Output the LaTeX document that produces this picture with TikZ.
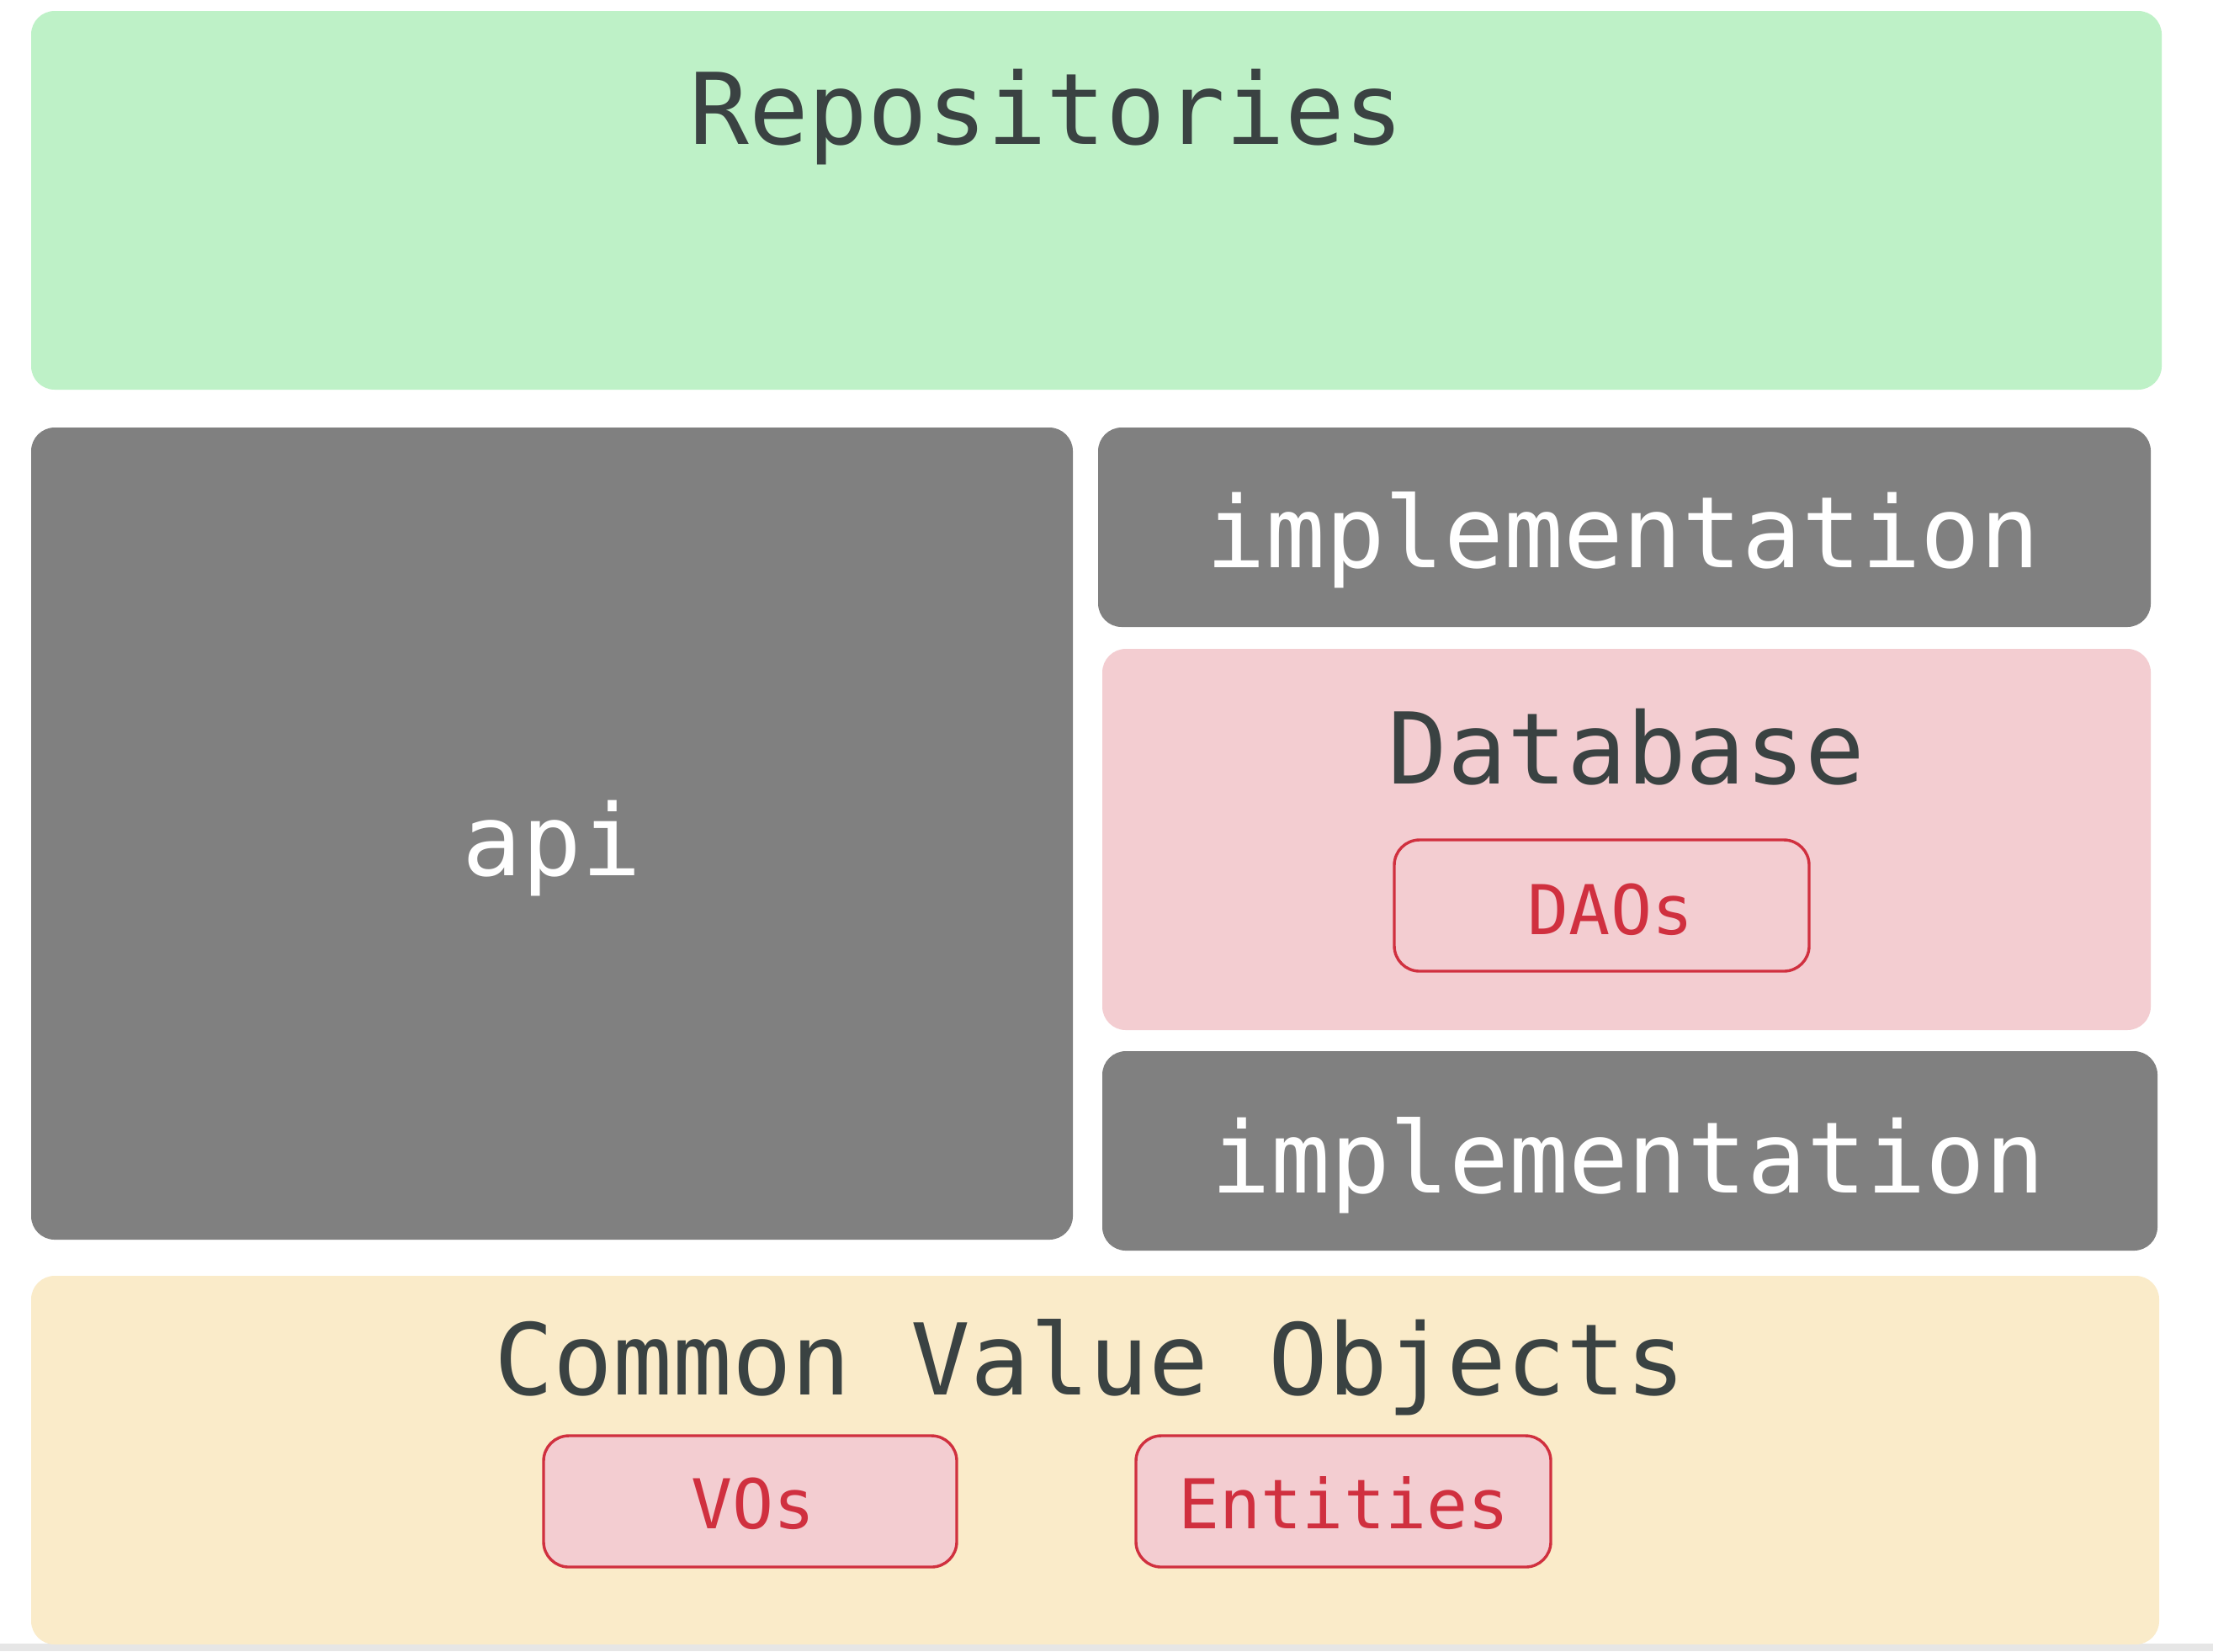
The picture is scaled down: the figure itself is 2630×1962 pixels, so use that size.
\documentclass[tikz,border=0pt]{standalone}
\usepackage{fontspec}
\setmonofont{DejaVu Sans Mono}
\definecolor{repogreen}{HTML}{BEF1C7}
\definecolor{modgray}{HTML}{808080}
\definecolor{dbpink}{HTML}{F3CDD1}
\definecolor{voyellow}{HTML}{FAEBC9}
\definecolor{tagred}{HTML}{D0303F}
\definecolor{darktext}{HTML}{3A4242}
\definecolor{stripgray}{HTML}{E6E6E6}
\tikzset{
  panel/.style={rounded corners=7pt, inner sep=0pt, draw=none},
  tagbox/.style={rounded corners=7.5pt, inner sep=0pt, draw=tagred, line width=0.85pt, fill=dbpink},
  bigtext/.style={anchor=base, inner sep=0pt, font=\ttfamily\fontsize{29.4}{32}\selectfont},
  smalltext/.style={anchor=base, inner sep=0pt, text=tagred, font=\ttfamily\fontsize{20.4}{24}\selectfont}
}
\begin{document}
\begin{tikzpicture}[x=0.25pt,y=-0.25pt]
\useasboundingbox (0,0) rectangle (2630,1962);
\fill[white] (0,0) rectangle (2630,1962);
\fill[stripgray] (0,1953) rectangle (2630,1962);
% boxes
\node[panel, fill=repogreen, minimum width=633pt, minimum height=112.5pt] (repo) at (1303,238) {};
\node[panel, fill=modgray, minimum width=309.5pt, minimum height=241.25pt] (api) at (656,990.5) {};
\node[panel, fill=modgray, minimum width=312.75pt, minimum height=59.25pt] (impltop) at (1930.5,626.5) {};
\node[panel, fill=dbpink, minimum width=311.5pt, minimum height=113.25pt] (db) at (1933,997.5) {};
\node[panel, fill=modgray, minimum width=313.5pt, minimum height=59.25pt] (implbot) at (1937,1367.5) {};
\node[panel, fill=voyellow, minimum width=632.25pt, minimum height=109.5pt] (cvo) at (1301.5,1735) {};
\node[tagbox, fill=none, minimum width=123.25pt, minimum height=39pt] (daos) at (1903.5,1076) {};
\node[tagbox, minimum width=122.75pt, minimum height=39pt] (vos) at (891.5,1784) {};
\node[tagbox, minimum width=123.25pt, minimum height=39pt] (ents) at (1596.5,1784) {};
% texts
\node[bigtext, text=darktext] (repot) at (1244,171) {Repositories};
\node[bigtext, text=white] (apit) at (656,1040) {api};
\node[bigtext, text=white] (impltopt) at (1929,674) {implementation};
\node[bigtext, text=darktext] (dbt) at (1933,931) {Database};
\node[bigtext, text=white] (implbott) at (1935,1417) {implementation};
\node[bigtext, text=darktext] (cvot) at (1295,1657) {Common Value Objects};
\node[smalltext] (daost) at (1914,1110) {DAOs};
\node[smalltext] (vost) at (895,1816) {VOs};
\node[smalltext] (entst) at (1597,1816) {Entities};
\end{tikzpicture}
\end{document}
